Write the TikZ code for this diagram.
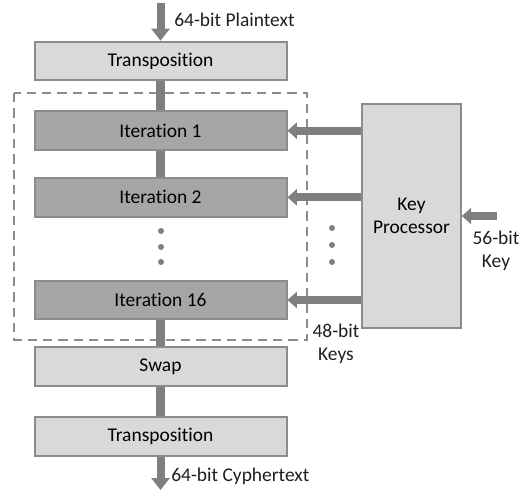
\documentclass[tikz,border=0pt]{standalone}
\usepackage{fontspec}
\setmainfont{Carlito}[Ligatures=NoCommon]
\usepackage{tikz}
\usetikzlibrary{positioning, arrows.meta}

\definecolor{lightbox}{HTML}{D9D9D9}
\definecolor{darkbox}{HTML}{A6A6A6}
\definecolor{rim}{HTML}{8C8C8C}
\definecolor{pipe}{HTML}{7F7F7F}

\tikzset{
  stage/.style={draw=rim, fill=lightbox, line width=1.5pt, minimum width=189pt, minimum height=29pt, inner sep=0pt},
  round/.style={stage, fill=darkbox},
  link/.style={draw=pipe, line width=7pt},
  flow/.style={draw=pipe, line width=6pt, -{Triangle[width=13.5pt, length=9pt]}},
  keyflow/.style={draw=pipe, line width=6pt, -{Triangle[width=12pt, length=7pt]}},
  label/.style={align=center, text=black!88, inner sep=0pt},
  dot/.style={circle, fill=pipe, inner sep=0pt, minimum size=4.5pt}
}

\begin{document}
\begin{tikzpicture}[x=0.75pt, y=-0.75pt, font=\fontsize{14.6}{17.5}\selectfont]
  \useasboundingbox (0,0) rectangle (519,490);

  \node[stage] (T1) at (160.5,61) {Transposition};
  \node[round, below=21.75pt of T1]  (I1)  {Iteration 1};
  \node[round, below=19.5pt of I1]   (I2)  {Iteration 2};
  \node[round, below=46.5pt of I2]   (I16) {Iteration 16};
  \node[stage, below=19.5pt of I16]  (S)   {Swap};
  \node[stage, below=21.75pt of S]   (T2)  {Transposition};

  \node[draw=rim, fill=lightbox, line width=1.5pt, minimum width=74pt, minimum height=168pt,
        align=center] (KP) at (411.5,216) {Key\\Processor};

  % round block
  \draw[rim, line width=1.5pt, dash pattern=on 7pt off 4.5pt] (14,93) rectangle (307,340);

  \node[dot] (d1) at (161,231) {};
  \node[dot] (d2) at (161,247) {};
  \node[dot] (d3) at (161,262) {};
  \node[dot] (k1) at (332,228) {};
  \node[dot] (k2) at (332,245) {};
  \node[dot] (k3) at (332,262) {};

  \coordinate (in) at (160.5,3);
  \coordinate (out) at (160.5,490);
  \coordinate (key) at (497,216);

  \draw[flow] (in) -- (T1);
  \draw[link] (T1) -- (I1);
  \draw[link] (I1) -- (I2);
  \draw[link] (I16) -- (S);
  \draw[link] (S) -- (T2);
  \draw[flow] (T2) -- (out);

  \draw[keyflow] (KP.west |- I1) -- (I1.east);
  \draw[keyflow] (KP.west |- I2) -- (I2.east);
  \draw[keyflow] (KP.west |- I16) -- (I16.east);
  \draw[keyflow] (key) -- (KP.east |- key);

  \node[label, anchor=west] (pt) at (174,20) {64-bit Plaintext};
  \node[label, anchor=west] (ct) at (171,476) {64-bit Cyphertext};
  \node[label] (kin) at (496,251) {56-bit\\Key};
  \node[label] (kout) at (336,344) {48-bit\\Keys};
\end{tikzpicture}
\end{document}
